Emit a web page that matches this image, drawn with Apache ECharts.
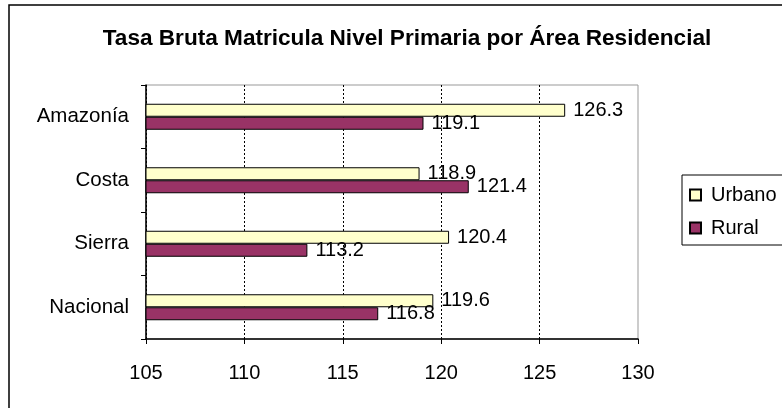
<!DOCTYPE html>
<html>
<head>
<meta charset="utf-8">
<style>
  html, body { margin: 0; padding: 0; background: #fff; }
  #chart { width: 782px; height: 408px; }
</style>
<script src="https://cdn.jsdelivr.net/npm/echarts@6/dist/echarts.min.js"></script>
</head>
<body>
<div id="chart"></div>
<script>
const titleText = 'Tasa Bruta Matricula Nivel Primaria por Área Residencial';
const categories = ['Nacional', 'Sierra', 'Costa', 'Amazonía'];
const urbanoValues = [119.6, 120.4, 118.9, 126.3];
const ruralValues = [116.8, 113.2, 121.4, 119.1];
const seriesNames = ['Urbano', 'Rural'];

const font = '"Liberation Sans", Arial, sans-serif';
const chart = echarts.init(document.getElementById('chart'), null, { renderer: 'canvas' });

const labelStyle = {
  show: true,
  position: 'right',
  distance: 8,
  color: '#000',
  fontSize: 20,
  fontFamily: font
};

chart.setOption({
  animation: false,
  backgroundColor: '#fff',
  title: {
    text: titleText,
    left: 402,
    textAlign: 'center',
    top: 22,
    textStyle: { fontSize: 22.6, fontWeight: 'bold', color: '#000', fontFamily: font }
  },
  legend: {
    orient: 'vertical',
    left: 682,
    top: 175,
    data: seriesNames,
    icon: 'rect',
    itemWidth: 11,
    itemHeight: 11,
    itemGap: 13,
    padding: [10, 60, 7, 7],
    borderColor: '#000',
    borderWidth: 1,
    backgroundColor: '#fff',
    textStyle: { fontSize: 20, color: '#000', fontFamily: font, padding: [0, 0, 0, 5] }
  },
  grid: {
    left: 146,
    right: 144,
    top: 85,
    bottom: 69,
    show: true,
    borderColor: '#999',
    borderWidth: 1
  },
  xAxis: {
    type: 'value',
    min: 105,
    max: 130,
    interval: 5,
    axisLine: { show: true, lineStyle: { color: '#000', width: 1.5 } },
    axisTick: { show: true, length: 5, lineStyle: { color: '#000' } },
    axisLabel: { color: '#000', fontSize: 20, fontFamily: font, margin: 24 },
    splitLine: {
      show: true,
      lineStyle: { color: ['#000', '#000', '#000', '#000', '#000', 'transparent'], type: [2, 2], width: 1 }
    }
  },
  yAxis: {
    type: 'category',
    data: categories,
    axisLine: { show: true, lineStyle: { color: '#000', width: 1.5 } },
    axisTick: { show: true, length: 5, lineStyle: { color: '#000' } },
    axisLabel: { color: '#000', fontSize: 20.5, fontFamily: font, margin: 17 },
    splitLine: { show: false }
  },
  series: [
    {
      name: 'Urbano',
      type: 'bar',
      data: urbanoValues,
      barWidth: 13,
      barGap: '0%',
      itemStyle: { color: '#FFFFCC', borderColor: '#000', borderWidth: 1 },
      label: labelStyle
    },
    {
      name: 'Rural',
      type: 'bar',
      data: ruralValues,
      barWidth: 13,
      barGap: '0%',
      itemStyle: { color: '#993366', borderColor: '#000', borderWidth: 1 },
      label: labelStyle
    }
  ],
  graphic: [
    {
      type: 'rect',
      shape: { x: 9, y: 5, width: 820, height: 440 },
      style: { fill: null, stroke: '#000', lineWidth: 1.5 },
      silent: true
    }
  ]
});
</script>
</body>
</html>
